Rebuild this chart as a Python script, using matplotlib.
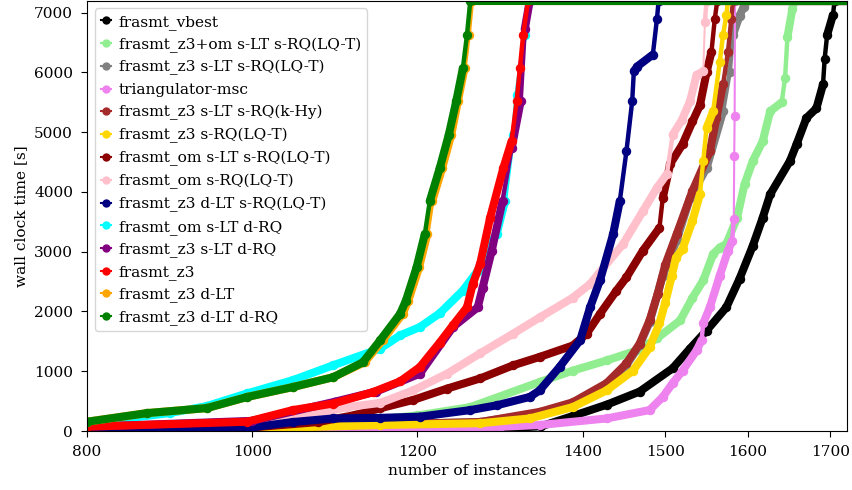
import matplotlib.pyplot as plt
import numpy as np
from matplotlib.collections import LineCollection
from matplotlib.lines import Line2D

plt.rcParams['font.family'] = 'DejaVu Serif'
plt.rcParams['font.size'] = 11.1

TIMEOUT = 7200

labels = [
    "frasmt_vbest",
    "frasmt_z3+om s-LT s-RQ(LQ-T)",
    "frasmt_z3 s-LT s-RQ(LQ-T)",
    "triangulator-msc",
    "frasmt_z3 s-LT s-RQ(k-Hy)",
    "frasmt_z3 s-RQ(LQ-T)",
    "frasmt_om s-LT s-RQ(LQ-T)",
    "frasmt_om s-RQ(LQ-T)",
    "frasmt_z3 d-LT s-RQ(LQ-T)",
    "frasmt_om s-LT d-RQ",
    "frasmt_z3 s-LT d-RQ",
    "frasmt_z3",
    "frasmt_z3 d-LT",
    "frasmt_z3 d-LT d-RQ",
]
colors = ["black", "lightgreen", "gray", "violet", "brown", "gold", "darkred",
          "pink", "navy", "cyan", "purple", "red", "orange", "green"]

# solved-instance counts and wall clock times
vbest_x = [780, 800, 1000, 1200, 1300, 1350, 1388, 1429, 1469, 1509, 1530, 1550, 1574, 1590,
           1606, 1618, 1627, 1651, 1659, 1671, 1683, 1691, 1693, 1696, 1703, 1705, 1760]
vbest_y = [0, 1, 5, 20, 40, 80, 250, 440, 660, 1050, 1380, 1680, 2070, 2550,
           3100, 3570, 3960, 4520, 4800, 5240, 5400, 5800, 6230, 6630, 6960, 7200, 7200]

z3om_x = [780, 800, 1000, 1100, 1200, 1264, 1348, 1388, 1429, 1466, 1490, 1518, 1533, 1546,
          1558, 1566, 1574, 1587, 1596, 1606, 1618, 1627, 1641, 1645, 1648, 1654, 1656, 1760]
z3om_y = [15, 20, 60, 130, 260, 400, 820, 1010, 1180, 1350, 1550, 1850, 2230, 2520,
          2960, 3070, 3130, 3570, 4130, 4520, 4850, 5350, 5500, 5900, 6600, 7070, 7200, 7200]

z3_slt_srq_x = [780, 800, 1000, 1155, 1276, 1348, 1388, 1429, 1453, 1469, 1481, 1497, 1514,
                1530, 1550, 1570, 1578, 1582, 1590, 1595, 1598, 1760]
z3_slt_srq_y = [5, 10, 45, 110, 150, 300, 460, 780, 1100, 1440, 1820, 2600, 3200,
                3900, 4400, 5350, 6000, 6630, 6950, 7100, 7200, 7200]

tri_x = [780, 800, 1000, 1200, 1300, 1348, 1429, 1481, 1497, 1509, 1521, 1538, 1544, 1546,
         1554, 1566, 1576, 1581, 1583, 1583.5, 1584, 1584.5, 1760]
tri_y = [0, 2, 10, 40, 70, 100, 210, 350, 570, 800, 1010, 1350, 1520, 1800,
         2070, 2600, 3020, 3180, 3550, 4600, 5270, 7200, 7200]

khy_x = [780, 800, 1000, 1155, 1276, 1348, 1388, 1429, 1453, 1469, 1481, 1491, 1500, 1514,
         1533, 1554, 1562, 1570, 1576, 1580, 1582, 1760]
khy_y = [5, 10, 45, 110, 150, 320, 480, 800, 1130, 1460, 1850, 2300, 2780, 3300,
         4020, 4680, 5240, 5800, 6350, 6900, 7200, 7200]

z3_srq_x = [780, 800, 1000, 1155, 1276, 1336, 1388, 1429, 1461, 1481, 1493, 1500, 1508,
            1513, 1521, 1533, 1542, 1546, 1550, 1558, 1566, 1570, 1574, 1576, 1760]
z3_srq_y = [5, 8, 40, 100, 130, 210, 400, 680, 1010, 1400, 1800, 2150, 2600,
            2900, 3050, 3520, 3960, 4520, 5070, 5350, 6180, 6630, 6960, 7200, 7200]

om_slt_srq_x = [780, 800, 1000, 1080, 1125, 1155, 1195, 1236, 1276, 1316, 1348, 1388, 1405,
                1421, 1441, 1453, 1473, 1493, 1497, 1506, 1521, 1533, 1542, 1550, 1556,
                1560, 1563, 1760]
om_slt_srq_y = [10, 15, 60, 150, 270, 380, 520, 710, 880, 1100, 1240, 1430, 1630,
                1960, 2350, 2570, 3020, 3400, 3900, 4470, 4800, 5180, 5450, 6000, 6350,
                6900, 7200, 7200]

om_srq_x = [780, 800, 1000, 1060, 1115, 1155, 1195, 1236, 1276, 1316, 1348, 1388, 1409, 1449,
            1473, 1490, 1502, 1509, 1520, 1530, 1538, 1546, 1548, 1550, 1760]
om_srq_y = [30, 40, 120, 230, 400, 470, 680, 960, 1300, 1630, 1900, 2230, 2460, 3130,
            3680, 4070, 4300, 4960, 5200, 5520, 5960, 6020, 6850, 7200, 7200]

z3_dlt_srq_x = [780, 800, 994, 1049, 1098, 1155, 1203, 1264, 1296, 1336, 1348, 1372, 1397,
                1409, 1421, 1437, 1445, 1453, 1460, 1462, 1466, 1485, 1490, 1492, 1760]
z3_dlt_srq_y = [15, 20, 50, 150, 210, 220, 240, 350, 430, 570, 680, 1070, 1520,
                2070, 2520, 3300, 3850, 4680, 5520, 6020, 6100, 6300, 6900, 7200, 7200]

om_slt_drq_x = [780, 800, 900, 945, 994, 1049, 1098, 1155, 1179, 1203, 1227, 1255, 1273, 1284,
                1296, 1306, 1316, 1320, 1330, 1334, 1760]
om_slt_drq_y = [110, 130, 300, 417, 630, 850, 1100, 1380, 1600, 1740, 1970, 2350, 2680, 3050,
                3300, 3850, 4960, 5630, 6630, 7200, 7200]

z3_slt_drq_x = [780, 800, 1000, 1100, 1150, 1203, 1243, 1273, 1279, 1290, 1303, 1314, 1325,
                1330, 1336, 1760]
z3_slt_drq_y = [50, 70, 170, 490, 660, 960, 1740, 2070, 2400, 3020, 3850, 4730, 5520,
                6730, 7200, 7200]

z3_x = [780, 800, 994, 1049, 1098, 1146, 1179, 1203, 1227, 1243, 1260, 1267, 1276, 1288,
        1304, 1314, 1320, 1324, 1328, 1334, 1760]
z3_y = [60, 72, 155, 350, 460, 650, 830, 1070, 1480, 1770, 2070, 2460, 2800, 3570,
        4400, 4850, 5520, 6070, 6630, 7200, 7200]

z3_dlt_x = [780, 800, 873, 945, 994, 1049, 1098, 1136, 1158, 1182, 1189, 1202, 1212, 1218,
            1230, 1241, 1249, 1257, 1262, 1266, 1760]
z3_dlt_y = [130, 155, 300, 383, 570, 735, 900, 1150, 1520, 1960, 2180, 2740, 3300, 3850,
            4400, 4960, 5520, 6070, 6630, 7200, 7200]

z3_dlt_drq_x = [780, 800, 873, 945, 994, 1049, 1098, 1134, 1155, 1179, 1186, 1199, 1209, 1215,
                1227, 1238, 1247, 1255, 1260, 1264, 1760]
z3_dlt_drq_y = [130, 155, 300, 383, 570, 735, 900, 1150, 1520, 1960, 2180, 2740, 3300, 3850,
                4400, 4960, 5520, 6070, 6630, 7200, 7200]

series = [
    (vbest_x, vbest_y),
    (z3om_x, z3om_y),
    (z3_slt_srq_x, z3_slt_srq_y),
    (tri_x, tri_y),
    (khy_x, khy_y),
    (z3_srq_x, z3_srq_y),
    (om_slt_srq_x, om_slt_srq_y),
    (om_srq_x, om_srq_y),
    (z3_dlt_srq_x, z3_dlt_srq_y),
    (om_slt_drq_x, om_slt_drq_y),
    (z3_slt_drq_x, z3_slt_drq_y),
    (z3_x, z3_y),
    (z3_dlt_x, z3_dlt_y),
    (z3_dlt_drq_x, z3_dlt_drq_y),
]

fig = plt.figure(figsize=(8.52, 4.90), dpi=100)
ax = fig.add_axes([0.1021, 0.1204, 0.892, 0.878])

# dense markers merge into a band where the curve is flat; steep jumps stay thin
for i, ((x, y), label, c) in enumerate(zip(series, labels, colors)):
    x = np.asarray(x, float)
    y = np.asarray(y, float)
    pts = np.column_stack([x, y])
    segs = np.stack([pts[:-1], pts[1:]], axis=1)
    slope = np.abs(np.diff(y)) / np.maximum(np.diff(x), 1e-6)
    widths = np.where(slope < 80, 5.8, np.where(slope < 300, 3.2, 1.5))
    lc = LineCollection(segs, colors=c, linewidths=widths, capstyle='round',
                        joinstyle='round', zorder=2 + i * 0.01)
    ax.add_collection(lc)
    ax.plot(x, y, 'o', color=c, markersize=5.8, label=label, zorder=2 + i * 0.01 + 0.005)

ax.set_xlim(800, 1720)
ax.set_ylim(0, TIMEOUT)
ax.set_xticks([800, 1000, 1200, 1400, 1500, 1600, 1700])
ax.set_yticks(range(0, 7001, 1000))
ax.tick_params(length=4.5, pad=5.5)
ax.set_xlabel("number of instances")
ax.set_ylabel("wall clock time [s]")

handles = [Line2D([0], [0], color=c, marker='o', markersize=5, lw=1.5) for c in colors]
ax.legend(handles, labels, loc="upper left", handlelength=0.65, handletextpad=0.5)

fig.savefig("out.png", dpi=100)
